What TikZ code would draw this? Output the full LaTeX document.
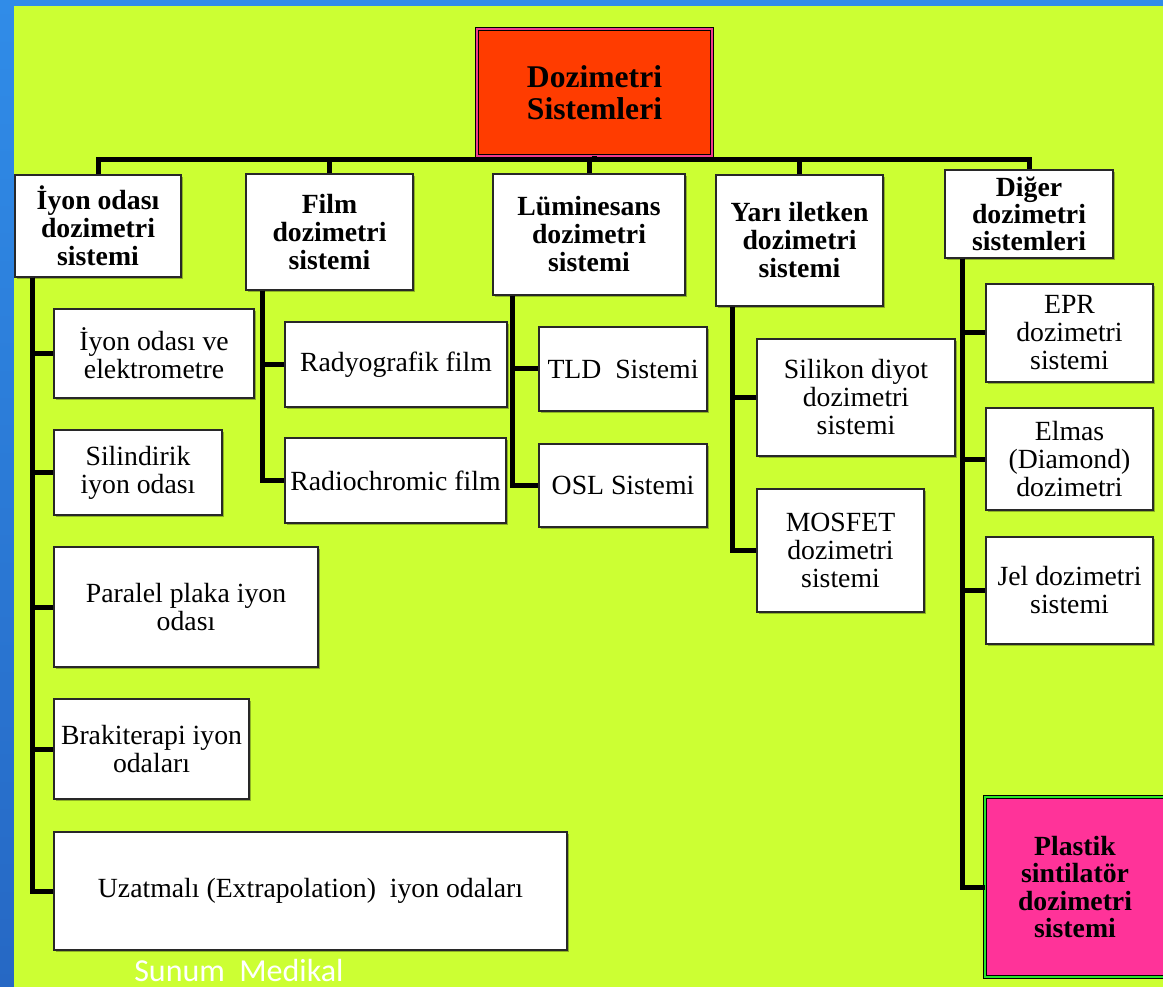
\documentclass[tikz,border=0pt]{standalone}
\usepackage{fontspec}
\setmainfont{Liberation Serif}
\newfontfamily\markfont{Carlito}
\usetikzlibrary{positioning, shadows}
\definecolor{limebg}{RGB}{204,255,51}
\definecolor{frameblue}{RGB}{48,140,232}
\definecolor{frameblue2}{RGB}{38,104,196}
\definecolor{rootred}{RGB}{255,60,0}
\definecolor{rootpink}{RGB}{240,60,140}
\definecolor{plastikpink}{RGB}{255,51,153}
\definecolor{plastikgreen}{RGB}{40,230,40}
\definecolor{boxline}{RGB}{40,40,40}

\tikzset{
  boxshadow/.style={drop shadow={shadow xshift=1.2pt, shadow yshift=-1.2pt, fill=black, opacity=0.3}},
  headbox/.style={rectangle, draw=boxline, fill=white, line width=1pt, align=center, inner sep=2pt, boxshadow, font=\fontsize{20.8}{21}\selectfont\bfseries},
  itembox/.style={rectangle, draw=boxline, fill=white, line width=1pt, align=center, inner sep=2pt, boxshadow, font=\fontsize{20.8}{21}\selectfont},
  linkline/.style={draw=black, line width=3.75pt},
}

\begin{document}
\begin{tikzpicture}[x=0.75pt, y=-0.75pt]
\useasboundingbox (0,0) rectangle (1163,987);

% Slide background
\fill[frameblue] (0,0) rectangle (1163,6);
\shade[top color=frameblue, bottom color=frameblue2] (0,0) rectangle (14,987);
\fill[limebg] (14,6) rectangle (1163,987);

% Root
\node[rectangle, draw=black, double=rootpink, double distance=1.5pt, line width=0.7pt, fill=rootred, boxshadow, align=center, minimum width=176pt, minimum height=95pt, font=\fontsize{23.7}{24}\selectfont\bfseries] (root) at (594.5,92.5) {Dozimetri\\Sistemleri};

% Main groups
\node[headbox, minimum width=124.5pt, minimum height=76.5pt] (c1) at (98,226) {İyon odası\\dozimetri\\sistemi};
\node[headbox, minimum width=125.25pt, minimum height=87pt] (c2) at (329.5,232) {Film\\dozimetri\\sistemi};
\node[headbox, minimum width=144pt, minimum height=90.75pt] (c3) at (589,234.5) {Lüminesans\\dozimetri\\sistemi};
\node[headbox, minimum width=125.25pt, minimum height=98.25pt] (c4) at (799.5,240.5) {Yarı iletken\\dozimetri\\sistemi};
\node[headbox, inner sep=0pt, minimum width=126pt, minimum height=66pt, font=\fontsize{20.8}{20}\selectfont\bfseries] (c5) at (1029,214) {Diğer\\dozimetri\\sistemleri};

% Ion chambers
\node[itembox, minimum width=150pt, minimum height=66.75pt] (s11) at (154,353.5) {İyon odası ve\\elektrometre};
\node[itembox, minimum width=126pt, minimum height=63.75pt] (s12) at (138,472.5) {Silindirik\\iyon odası};
\node[itembox, minimum width=198pt, minimum height=90pt] (s13) at (186,607) {Paralel plaka iyon\\odası};
\node[itembox, minimum width=146.25pt, minimum height=75pt] (s14) at (151.5,749) {Brakiterapi iyon\\odaları};
\node[itembox, minimum width=384.75pt, minimum height=88.5pt] (s15) at (310.5,891) {Uzatmalı (Extrapolation)\ \ iyon odaları};

% Films
\node[itembox, minimum width=166.5pt, minimum height=63.75pt] (s21) at (396,364.5) {Radyografik film};
\node[itembox, minimum width=165.75pt, minimum height=63.75pt] (s22) at (395.5,480.5) {Radiochromic film};

% Luminescence
\node[itembox, minimum width=126pt, minimum height=63pt] (s31) at (623,369) {TLD\ \ Sistemi};
\node[itembox, minimum width=126pt, minimum height=62.25pt] (s32) at (623,485.5) {OSL Sistemi};

% Semiconductors
\node[itembox, minimum width=148.5pt, minimum height=87.75pt] (s41) at (856,397.5) {Silikon diyot\\dozimetri\\sistemi};
\node[itembox, minimum width=125.25pt, minimum height=92.25pt] (s42) at (840.5,550.5) {MOSFET\\dozimetri\\sistemi};

% Others
\node[itembox, minimum width=125.25pt, minimum height=73.5pt] (s51) at (1069.5,333) {EPR\\dozimetri\\sistemi};
\node[itembox, minimum width=125.25pt, minimum height=76.5pt] (s52) at (1069.5,459) {Elmas\\(Diamond)\\dozimetri};
\node[itembox, minimum width=125.25pt, minimum height=80.25pt] (s53) at (1069.5,590.5) {Jel dozimetri\\sistemi};
\node[rectangle, draw=black, double=plastikgreen, double distance=1.8pt, line width=0.7pt, fill=plastikpink, boxshadow, align=center, minimum width=135pt, minimum height=135pt, font=\fontsize{20.8}{20.5}\selectfont\bfseries] (s54) at (1075,887) {Plastik\\sintilatör\\dozimetri\\sistemi};

% Trunk
\coordinate (bar) at (594,159.5);
\draw[linkline] (root.south) -- (root.south |- bar);
\draw[linkline] (c1.north) -- (c1.north |- bar) -- (c5.north |- bar) -- (c5.north);
\foreach \c in {c2,c3,c4}
  \draw[linkline] (\c.north) -- (\c.north |- bar);

% Branches
\foreach \s in {s11,s12,s13,s14,s15}
  \draw[linkline] ([xshift=13.5pt]c1.south west) |- (\s.west);
\foreach \s in {s21,s22}
  \draw[linkline] ([xshift=13pt]c2.south west) |- (\s.west);
\foreach \s in {s31,s32}
  \draw[linkline] ([xshift=15pt]c3.south west) |- (\s.west);
\foreach \s in {s41,s42}
  \draw[linkline] ([xshift=13pt]c4.south west) |- (\s.west);
\foreach \s in {s51,s52,s53,s54}
  \draw[linkline] ([xshift=13.5pt]c5.south west) |- (\s.west);

% Watermark
\node[text=white, anchor=base west, inner sep=0pt, font=\markfont\fontsize{24}{24}\selectfont] (mark) at (134,981) {Sunum\ \ Medikal};
\end{tikzpicture}
\end{document}
